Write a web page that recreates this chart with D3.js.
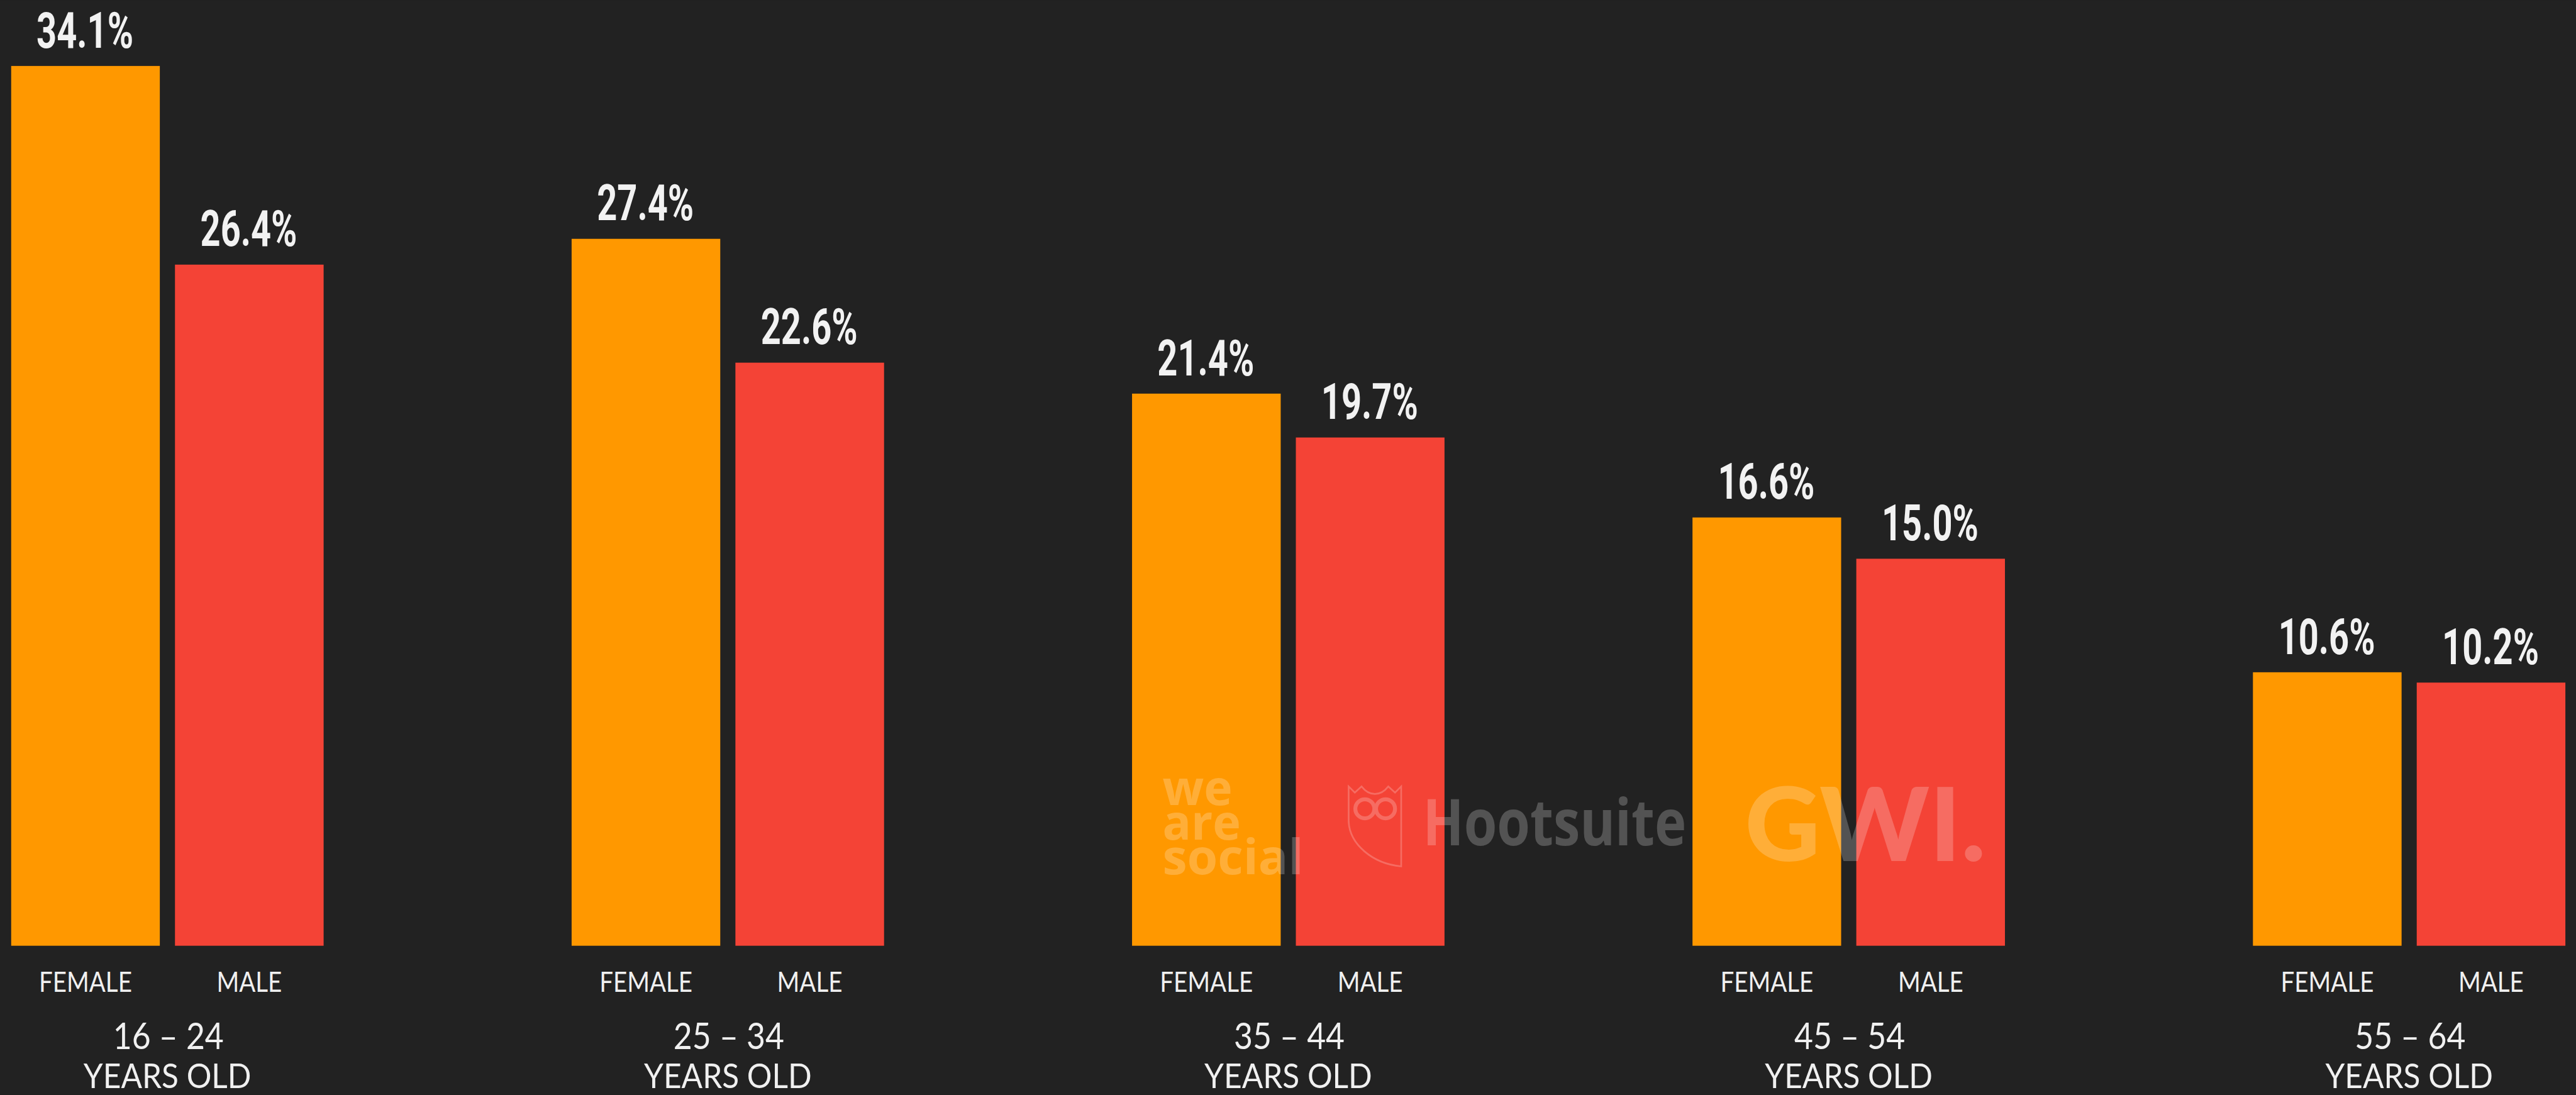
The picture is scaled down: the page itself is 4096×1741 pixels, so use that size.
<!DOCTYPE html>
<html><head><meta charset="utf-8">
<script src="https://cdn.jsdelivr.net/npm/d3@7/dist/d3.min.js"></script>
<style>html,body{margin:0;padding:0;background:#222222;overflow:hidden}svg{display:block}</style>
</head><body><svg id="c"></svg>
<script>
const ageGroups = ["16 – 24","25 – 34","35 – 44","45 – 54","55 – 64"];
const genders = ["FEMALE","MALE"];
const femaleValues = [34.1,27.4,21.4,16.6,10.6];
const maleValues = [26.4,22.6,19.7,15.0,10.2];
const genderColors = ["#FF9800","#F44336"];
const ageSuffix = "YEARS OLD";

const W=4609,H=1959;
const svg=d3.select("#c").attr("width",4096).attr("height",1741).attr("viewBox",`0 0 ${W} ${H}`);
svg.append("rect").attr("width",W).attr("height",H).attr("fill","#222222");

const baseY=1692, topY=118;
const x0=d3.scaleBand().domain(ageGroups).range([20,4590]).paddingInner(0.4425).paddingOuter(0);
const x1=d3.scaleBand().domain(genders).range([0,x0.bandwidth()]).paddingInner(0.0925).paddingOuter(0);
const y=d3.scaleLinear().domain([0,34.1]).range([baseY,topY]);
const color=d3.scaleOrdinal().domain(genders).range(genderColors);
const series={FEMALE:femaleValues,MALE:maleValues};

const groups=svg.selectAll("g.group").data(ageGroups).join("g").attr("class","group")
  .attr("transform",d=>`translate(${x0(d)},0)`);

// bars
groups.selectAll("rect").data((d,i)=>genders.map(g=>({g,v:series[g][i]}))).join("rect")
  .attr("x",d=>x1(d.g)).attr("y",d=>y(d.v)).attr("width",x1.bandwidth())
  .attr("height",d=>y(0)-y(d.v)).attr("fill",d=>color(d.g));

// value labels
groups.selectAll("text.val").data((d,i)=>genders.map(g=>({g,v:series[g][i]}))).join("text")
  .attr("class","val")
  .attr("transform",d=>`translate(${x1(d.g)+x1.bandwidth()/2-1},${y(d.v)-33}) scale(0.7,1)`)
  .attr("text-anchor","middle").attr("fill","#f2f2f2")
  .style("font-family","Roboto").style("font-weight",700).style("font-size","90px")
  .text(d=>d.v.toFixed(1)+"%");

// gender axis per group
groups.append("g").attr("transform","translate(0,1774)").each(function(){
  const g=d3.select(this).call(d3.axisBottom(x1).tickSize(0).tickPadding(0));
  g.select(".domain").remove();
  g.selectAll("text").attr("y",0).attr("dy",0).attr("fill","#f0f0f0")
    .attr("transform","scale(0.85,1)")
    .style("font-family","Lato").style("font-size","51px");
});

// age axis
const ageAxis=svg.append("g").attr("transform","translate(0,1877)")
  .call(d3.axisBottom(x0).tickSize(0).tickPadding(0));
ageAxis.select(".domain").remove();
ageAxis.selectAll("text").attr("y",0).attr("dy",0).attr("x",2).attr("fill","#f0f0f0")
  .attr("transform","scale(0.88,1)")
  .style("font-family","Lato").style("font-size","66px");
ageAxis.selectAll(".tick").append("text").attr("y",70).attr("fill","#f0f0f0").attr("text-anchor","middle")
  .attr("transform","scale(0.9,1)")
  .style("font-family","Lato").style("font-size","62px").text(ageSuffix);

// watermarks
const wm=svg.append("g").attr("fill","#fff").attr("opacity",0.22).style("font-family","'Open Sans'").style("font-weight",700);
[["we",1440,125],["are",1502,140],["social",1564,252]].forEach(([t,yy,len])=>
  wm.append("text").attr("x",2080).attr("y",yy).attr("textLength",len).attr("lengthAdjust","spacingAndGlyphs").style("font-size","86px").text(t));
wm.append("text").attr("x",2546).attr("y",1512).attr("textLength",471).attr("lengthAdjust","spacingAndGlyphs").style("font-size","115px").text("Hootsuite");
wm.append("text").attr("x",3122).attr("y",1541).attr("textLength",431).attr("lengthAdjust","spacingAndGlyphs").style("font-family","Lato").style("font-size","182px").style("font-weight",900).text("GWI.");
// owl outline
const owl=svg.append("g").attr("fill","none").attr("stroke","#fff").attr("opacity",0.22).attr("stroke-width",3);
owl.append("path").attr("d","M2413 1407 L2413 1470 C2415 1510 2455 1545 2507 1550 L2507 1407 L2496 1418 L2484 1407 C2470 1425 2450 1425 2436 1407 L2424 1418 Z");
owl.append("circle").attr("cx",2442).attr("cy",1447).attr("r",17).attr("stroke-width",7);
owl.append("circle").attr("cx",2479).attr("cy",1447).attr("r",17).attr("stroke-width",7);
</script></body></html>
